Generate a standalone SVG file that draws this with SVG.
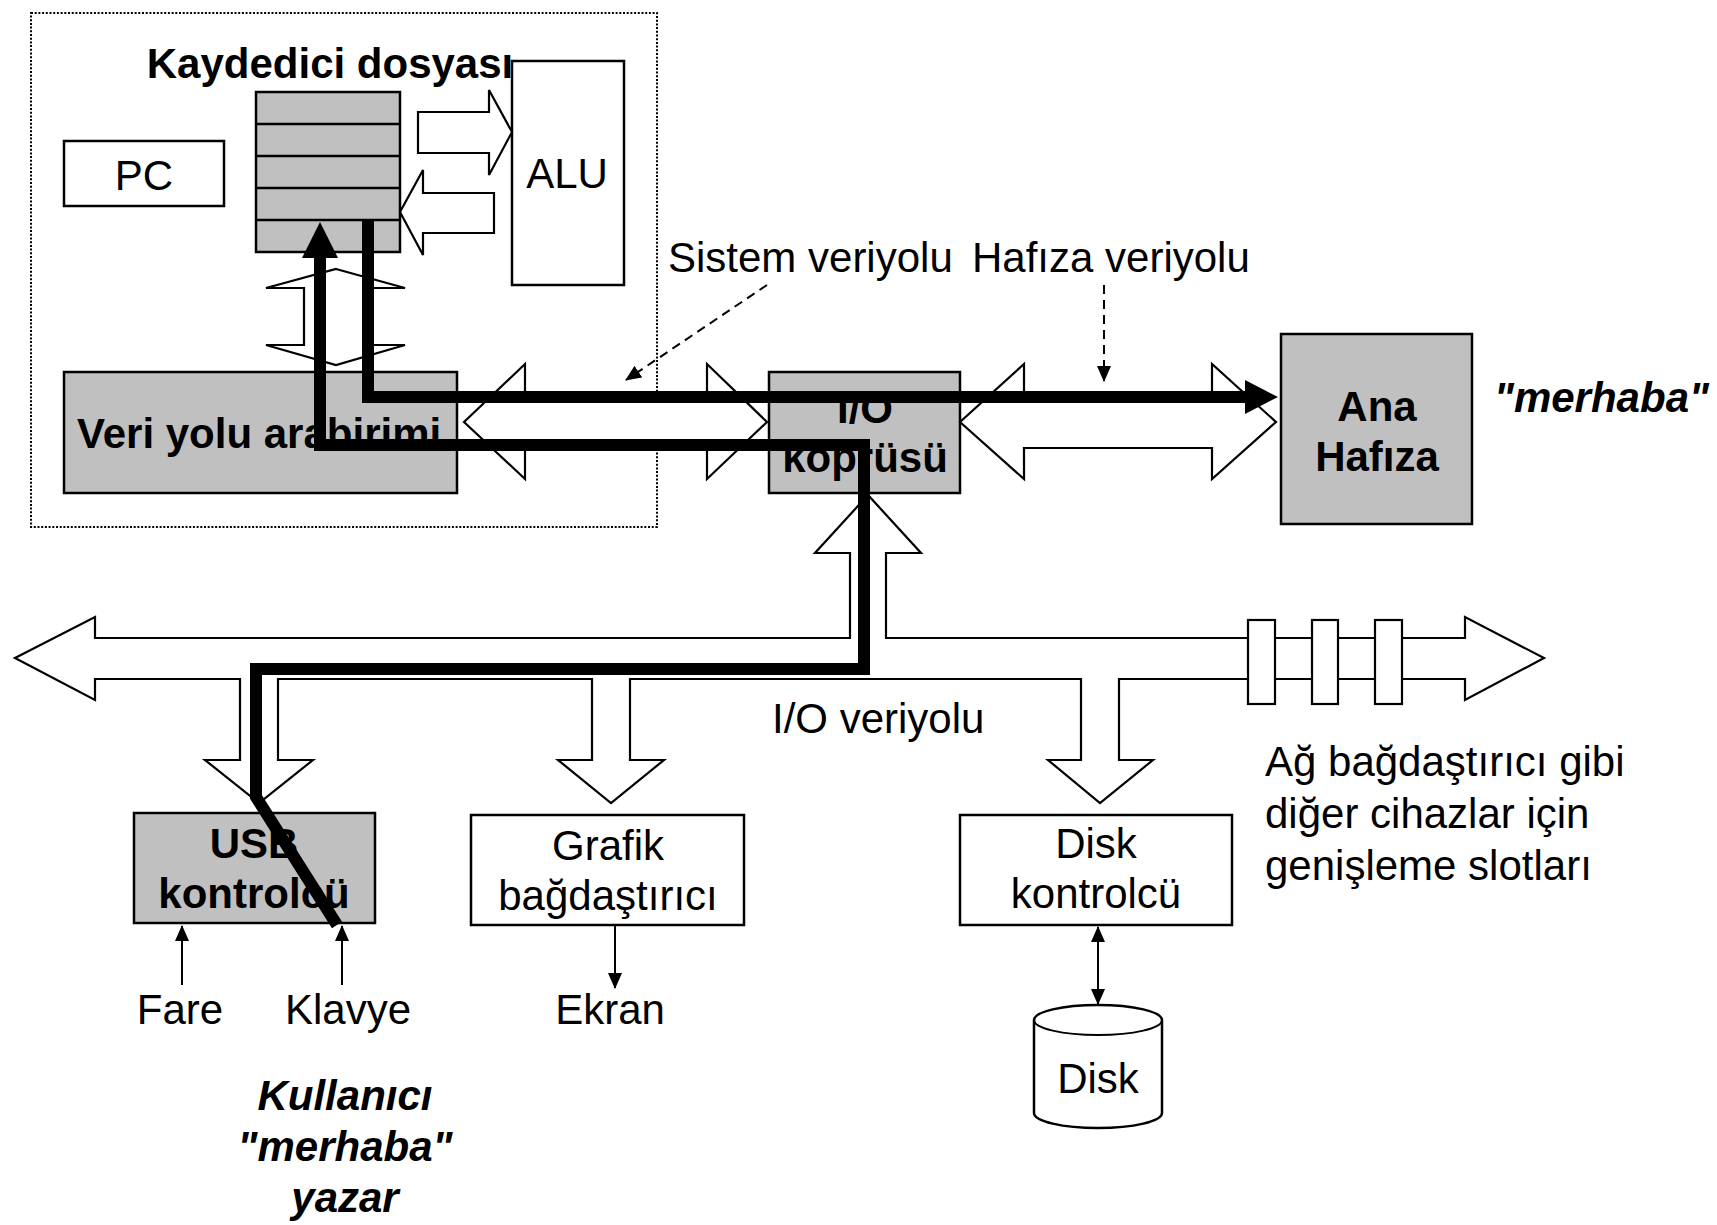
<svg xmlns="http://www.w3.org/2000/svg" width="1717" height="1225" viewBox="0 0 1717 1225">
<style>
text{font-family:"Liberation Sans",Arial,sans-serif;font-size:42px;fill:#000}
.b{font-weight:bold}
.bi{font-weight:bold;font-style:italic}
.m{text-anchor:middle}
.box{fill:#fff;stroke:#000;stroke-width:2.5}
.gbox{fill:#c0c0c0;stroke:#000;stroke-width:2.5}
.blk{fill:#fff;stroke:#000;stroke-width:2.2;stroke-linejoin:miter}
.thick{fill:none;stroke:#000;stroke-width:12;stroke-linejoin:miter;stroke-linecap:butt}
.thin{fill:none;stroke:#000;stroke-width:2}
.dash{fill:none;stroke:#000;stroke-width:2;stroke-dasharray:9 6}
</style>
<defs>
<marker id="ah" markerUnits="userSpaceOnUse" markerWidth="16" markerHeight="14" refX="15" refY="7" orient="auto-start-reverse">
<path d="M0,0 L16,7 L0,14 Z" fill="#000"/>
</marker>
<marker id="dah" markerUnits="userSpaceOnUse" markerWidth="16" markerHeight="14" refX="15" refY="7" orient="auto">
<path d="M0,0 L16,7 L0,14 Z" fill="#000"/>
</marker>
</defs>

<g id="cpu">
<rect x="31" y="13" width="626" height="514" fill="none" stroke="#000" stroke-width="2" stroke-dasharray="2 1.7"/>
</g>

<g id="regfile">
<text x="330" y="78" class="b m">Kaydedici dosyası</text>
<rect x="256" y="92" width="144" height="160" class="gbox"/>
<line x1="256" y1="124" x2="400" y2="124" stroke="#000" stroke-width="2.5"/>
<line x1="256" y1="156" x2="400" y2="156" stroke="#000" stroke-width="2.5"/>
<line x1="256" y1="188" x2="400" y2="188" stroke="#000" stroke-width="2.5"/>
<line x1="256" y1="220" x2="400" y2="220" stroke="#000" stroke-width="2.5"/>
</g>

<g id="pc">
<rect x="64" y="141" width="160" height="65" class="box"/>
<text x="144" y="190" class="m">PC</text>
</g>

<g id="alu">
<rect x="512" y="61" width="112" height="224" class="box"/>
<text x="567" y="188" class="m">ALU</text>
</g>

<g id="busif">
<rect x="64" y="372" width="393" height="121" class="gbox"/>
<text x="77" y="448" class="b">Veri yolu arabirimi</text>
</g>

<g id="iobridge">
<rect x="769" y="372" width="191" height="121" class="gbox"/>
<text x="865" y="423" class="b m">I/O</text>
<text x="865" y="472" class="b m">köprüsü</text>
</g>

<g id="mainmem">
<rect x="1281" y="334" width="191" height="190" class="gbox"/>
<text x="1377" y="421" class="b m">Ana</text>
<text x="1377" y="471" class="b m">Hafıza</text>
</g>
<text x="1494" y="412" class="bi">"merhaba"</text>

<g id="usb">
<rect x="134" y="813" width="241" height="110" class="gbox"/>
<text x="254" y="858" class="b m">USB</text>
<text x="254" y="908" class="b m">kontrolcü</text>
</g>

<g id="graphics">
<rect x="471" y="815" width="273" height="110" class="box"/>
<text x="608" y="860" class="m">Grafik</text>
<text x="608" y="910" class="m">bağdaştırıcı</text>
</g>

<g id="diskctl">
<rect x="960" y="815" width="272" height="110" class="box"/>
<text x="1096" y="858" class="m">Disk</text>
<text x="1096" y="908" class="m">kontrolcü</text>
</g>

<g id="disk">
<path d="M1034,1020 A64,15 0 0 1 1162,1020 L1162,1113 A64,15 0 0 1 1034,1113 Z" class="box"/>
<path d="M1034,1020 A64,15 0 0 0 1162,1020" class="thin"/>
<text x="1098" y="1093" class="m">Disk</text>
</g>

<g id="labels">
<text x="668" y="272">Sistem veriyolu</text>
<text x="972" y="272">Hafıza veriyolu</text>
<text x="772" y="733">I/O veriyolu</text>
<text x="1265" y="776">Ağ bağdaştırıcı gibi</text>
<text x="1265" y="828">diğer cihazlar için</text>
<text x="1265" y="880">genişleme slotları</text>
<text x="180" y="1024" class="m">Fare</text>
<text x="348" y="1024" class="m">Klavye</text>
<text x="610" y="1024" class="m">Ekran</text>
<text x="345" y="1110" class="bi m">Kullanıcı</text>
<text x="345" y="1161" class="bi m">"merhaba"</text>
<text x="345" y="1212" class="bi m">yazar</text>
</g>

<g id="connectors">
<path class="blk" d="M418,112 L489,112 L489,90 L512,132 L489,175 L489,153 L418,153 Z"/>
<path class="blk" d="M494,193 L423,193 L423,170 L400,212 L423,255 L423,233 L494,233 Z"/>
<path class="blk" d="M336,269 L405,288 L368,288 L368,345 L405,345 L336,365 L266,345 L304,345 L304,288 L266,288 Z"/>
<path class="blk" d="M464,422 L525,364 L525,397 L707,397 L707,364 L767,422 L707,479 L707,448 L525,448 L525,479 Z"/>
<path class="blk" d="M960,422 L1024,364 L1024,397 L1212,397 L1212,364 L1276,422 L1212,479 L1212,448 L1024,448 L1024,479 Z"/>
<path class="blk" d="M15,658 L95,617 L95,638 L850,638 L850,553 L815,553 L868,495 L921,553 L886,553 L886,638 L1465,638 L1465,617 L1544,658 L1465,700 L1465,679 L1119,679 L1119,760 L1153,760 L1100,803 L1048,760 L1081,760 L1081,679 L630,679 L630,760 L664,760 L611,803 L558,760 L592,760 L592,679 L278,679 L278,760 L313,760 L259,803 L205,760 L240,760 L240,679 L95,679 L95,700 Z"/>
<rect x="1248" y="620" width="27" height="84" class="blk"/>
<rect x="1312" y="620" width="26" height="84" class="blk"/>
<rect x="1375" y="620" width="27" height="84" class="blk"/>
<line x1="767" y1="285" x2="626" y2="380" class="dash" marker-end="url(#dah)"/>
<line x1="1104" y1="285" x2="1104" y2="381" class="dash" marker-end="url(#dah)"/>
<line x1="182" y1="985" x2="182" y2="926" class="thin" marker-end="url(#ah)"/>
<line x1="342" y1="985" x2="342" y2="926" class="thin" marker-end="url(#ah)"/>
<line x1="615" y1="926" x2="615" y2="988" class="thin" marker-end="url(#ah)"/>
<line x1="1098" y1="927" x2="1098" y2="1004" class="thin" marker-start="url(#ah)" marker-end="url(#ah)"/>
<path class="thick" d="M337,925 L256,797 L256,669 L864,669 L864,445 L320,445 L320,256"/>
<path d="M320,222 L338,258 L302,258 Z" fill="#000"/>
<path class="thick" d="M368,221 L368,397 L1246,397"/>
<path d="M1278,397 L1245,380 L1245,414 Z" fill="#000"/>
</g>
</svg>
